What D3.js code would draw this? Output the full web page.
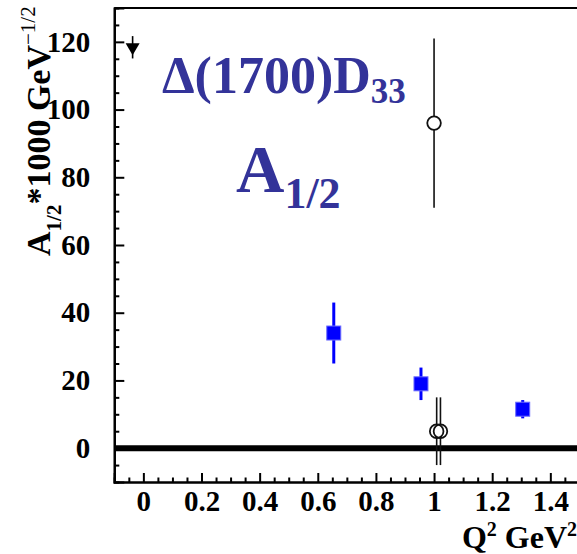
<!DOCTYPE html>
<html><head><meta charset="utf-8">
<script src="https://cdn.jsdelivr.net/npm/d3@7"></script>
<style>
html,body{margin:0;padding:0;background:#fff;overflow:hidden;}
text{font-family:"Liberation Serif","Times New Roman",serif;font-weight:bold;}
</style></head>
<body>
<svg id="c" width="577" height="554"></svg>
<script>
// ---- data ----
const xDomain = [-0.1, 1.5];
const yDomain = [-10, 130];
const xTickValues = [0, 0.2, 0.4, 0.6, 0.8, 1, 1.2, 1.4];
const xTickLabels = ["0", "0.2", "0.4", "0.6", "0.8", "1", "1.2", "1.4"];
const yTickValues = [0, 20, 40, 60, 80, 100, 120];
const yTickLabels = ["0", "20", "40", "60", "80", "100", "120"];
// blue squares
const sqX = [0.655, 0.955, 1.305];
const sqY = [34, 19, 11.5];
const sqErr = [9, 4.8, 2.7];
// open circles
const ocX = [1.0, 1.009, 1.022];
const ocY = [96, 5, 5];
const ocErr = [25, 10, 10];
// filled triangle (down)
const trX = [-0.037];
const trY = [118.4];
const trErr = [3.3];

const svg = d3.select("#c");
const L = 114.3, R = 579.4, T = 8, B = 482;
const x = d3.scaleLinear().domain(xDomain).range([L, R]);
const y = d3.scaleLinear().domain(yDomain).range([B, T]);

// zero line
svg.append("line").attr("x1", L).attr("x2", 577).attr("y1", y(0)).attr("y2", y(0))
  .attr("stroke", "#000").attr("stroke-width", 6);

// axes
const xMinor = d3.range(-0.05, 1.5, 0.05).map(v => +v.toFixed(2)).filter(v => !xTickValues.some(t => Math.abs(t - v) < 1e-6));
const yMinor = d3.range(-5, 130, 5).filter(v => !yTickValues.includes(v));

const xAx = svg.append("g").attr("transform", `translate(0,${B})`);
xAx.call(d3.axisBottom(x).tickValues(xTickValues).tickSize(-9).tickFormat((d, i) => xTickLabels[i]).tickPadding(8));
xAx.append("g").call(d3.axisBottom(x).tickValues(xMinor).tickSize(-4.5).tickFormat(""));
const yAx = svg.append("g").attr("transform", `translate(${L},0)`);
yAx.call(d3.axisLeft(y).tickValues(yTickValues).tickSize(-10).tickFormat((d, i) => yTickLabels[i]).tickPadding(24));
yAx.append("g").call(d3.axisLeft(y).tickValues(yMinor).tickSize(-5).tickFormat(""));
svg.selectAll(".domain").attr("stroke", "#000").attr("stroke-width", 2.2);
svg.selectAll(".tick line").attr("stroke", "#000").attr("stroke-width", 2);
svg.selectAll(".tick text").attr("font-size", 29).attr("fill", "#000")
  .style("font-family", "Liberation Serif, serif").style("font-weight", "bold");
// frame top and right
svg.append("line").attr("x1", L).attr("x2", R).attr("y1", T).attr("y2", T).attr("stroke", "#000").attr("stroke-width", 2.2);
svg.append("line").attr("x1", R).attr("x2", R).attr("y1", T).attr("y2", B).attr("stroke", "#000").attr("stroke-width", 2.2);

// blue squares with error bars
const sq = svg.append("g");
sqX.forEach((xv, i) => {
  sq.append("line").attr("x1", x(xv)).attr("x2", x(xv))
    .attr("y1", y(sqY[i] + sqErr[i])).attr("y2", y(sqY[i] - sqErr[i]))
    .attr("stroke", "#0000ff").attr("stroke-width", 3);
  sq.append("rect").attr("x", x(xv) - 7).attr("y", y(sqY[i]) - 7).attr("width", 14).attr("height", 14)
    .attr("fill", "#0000ff").attr("stroke", "#6a6aff").attr("stroke-width", 1);
});

// open circles: error lines, white fill, then rings
const oc = svg.append("g");
ocX.forEach((xv, i) => {
  oc.append("line").attr("x1", x(xv)).attr("x2", x(xv))
    .attr("y1", y(ocY[i] + ocErr[i])).attr("y2", y(ocY[i] - ocErr[i]))
    .attr("stroke", "#111").attr("stroke-width", 1.6);
});
ocX.forEach((xv, i) => {
  oc.append("circle").attr("cx", x(xv)).attr("cy", y(ocY[i])).attr("r", 6.8).attr("fill", "#fff");
});
ocX.forEach((xv, i) => {
  oc.append("circle").attr("cx", x(xv)).attr("cy", y(ocY[i])).attr("r", 6.8)
    .attr("fill", "none").attr("stroke", "#111").attr("stroke-width", 1.8);
});

// triangle
trX.forEach((xv, i) => {
  svg.append("line").attr("x1", x(xv)).attr("x2", x(xv))
    .attr("y1", y(trY[i] + trErr[i])).attr("y2", y(trY[i] - trErr[i]))
    .attr("stroke", "#000").attr("stroke-width", 1.6);
  svg.append("path").attr("d", d3.symbol().type(d3.symbolTriangle).size(85)())
    .attr("transform", `translate(${x(xv)},${y(trY[i])}) rotate(180)`).attr("fill", "#000");
});

// axis titles
const yt = svg.append("text").attr("transform", "translate(50,256) rotate(-90)").attr("font-size", 34).attr("fill", "#000");
yt.append("tspan").text("A");
yt.append("tspan").attr("font-size", 21).attr("dy", 11).text("1/2");
yt.append("tspan").attr("dy", -11).text("*1000 GeV");
yt.append("tspan").attr("font-size", 21).attr("dy", -15).style("font-weight", "normal").text("\u22121/2");

const xt = svg.append("text").attr("x", 577).attr("y", 548).attr("text-anchor", "end").attr("font-size", 32).attr("fill", "#000");
xt.append("tspan").text("Q");
xt.append("tspan").attr("font-size", 20).attr("dy", -12).text("2");
xt.append("tspan").attr("dy", 12).text(" GeV");
xt.append("tspan").attr("font-size", 20).attr("dy", -12).text("2");

// labels
const t1 = svg.append("text").attr("x", 162).attr("y", 93).attr("font-size", 52).attr("fill", "#333399");
t1.append("tspan").text("\u0394(1700)D");
t1.append("tspan").attr("font-size", 35).attr("dy", 10).text("33");
const t2 = svg.append("text").attr("x", 236).attr("y", 192).attr("font-size", 67).attr("fill", "#333399");
t2.append("tspan").text("A");
t2.append("tspan").attr("font-size", 44).attr("dy", 16).text("1/2");
</script>
</body></html>
